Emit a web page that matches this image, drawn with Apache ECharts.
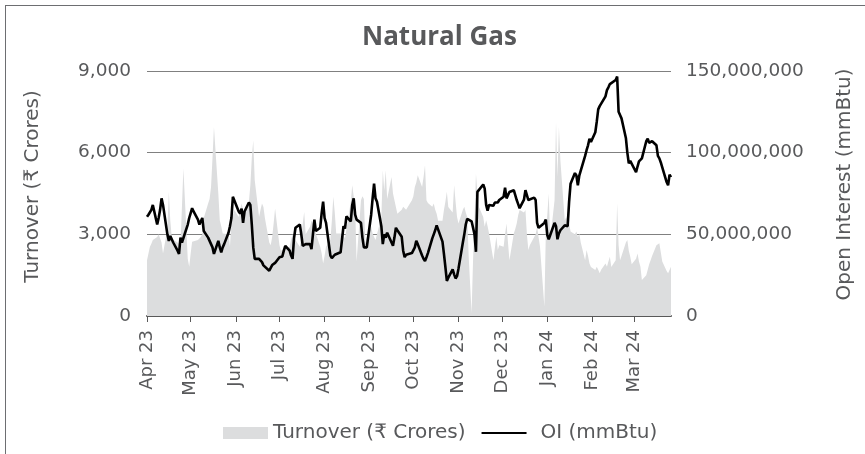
<!DOCTYPE html>
<html>
<head>
<meta charset="utf-8">
<script src="https://cdn.jsdelivr.net/npm/echarts@6/dist/echarts.min.js"></script>
<style>
  html, body { margin: 0; padding: 0; background: #fff; overflow: hidden; }
  #frame { position: absolute; left: 5px; top: 5px; width: 900px; height: 500px; border: 1px solid #6d6e71; }
  #chart { position: absolute; left: 0; top: 0; width: 865px; height: 454px; }
</style>
</head>
<body>
<div id="frame"></div>
<div id="chart"></div>
<script>
// axis runs over every calendar day, data only on trading days
const startDate = '2023-04-03';
const endDate = '2024-03-28';
const specialSessions = ['2023-11-12']; // Diwali muhurat trading (Sunday)

// turnover, ₹ crores, one value per trading day (Apr 23 .. Mar 24)
const turnover = [
  // Apr
  2050, 2300, 2540, 2650, 2790, 2900, 3000, 3030, 2700, 2300, 3200, 4560, 3500, 2910, 2800, 2700, 2730, 2600, 2540, 5420,
  // May
  2100, 1810, 2300, 2730, 2750, 2790, 2850, 2900, 3000, 3600, 4130, 4300, 4740, 5800, 6940, 4500, 3520, 3300, 3030, 3100, 3000, 2540, 3520,
  // Jun
  3700, 3890, 3640, 3900, 4130, 3900, 3760, 4190, 4800, 5800, 6450, 5000, 3640, 3900, 4130, 4000, 3600, 2700, 2600, 2900, 3400, 3950,
  // Jul
  2600, 2400, 2360, 2450, 2500, 2540, 2800, 3000, 2900, 2790, 2540, 2900, 3400, 3820, 3000, 3280, 3500, 3520, 3300, 3030, 2540,
  // Aug
  2300, 1930, 2200, 2540, 2800, 3500, 4380, 3800, 3030, 3030, 3000, 2950, 2850, 2790, 4200, 4800, 4400, 4010, 2000, 4250, 4400, 4300, 2670,
  // Sep
  2900, 3280, 3030, 2900, 2790, 3000, 3640, 5350, 4600, 5350, 4300, 5110, 4500, 4250, 4000, 3760, 3900, 4010, 3950, 3900, 3890,
  // Oct
  4250, 4400, 4740, 4900, 5170, 4740, 5100, 5540, 4250, 4150, 4010, 4130, 3900, 3760, 3500, 3500, 3890, 4200, 4560, 4000, 3800, 4800,
  // Nov
  4200, 3640, 3400, 3900, 4010, 3800, 3640, 2200, 100, 2050, 3500, 5230, 4500, 4010, 3640, 3280, 3520, 3300, 3030, 2050, 2500, 2910, 2420,
  // Dec
  2600, 2540, 3000, 3400, 2700, 2050, 3030, 3200, 3400, 3700, 3890, 3800, 3890, 3000, 2420, 2600, 2900, 3000, 3280, 2900, 2540,
  // Jan
  340, 3030, 3700, 4500, 2790, 4250, 7130, 5110, 6940, 5720, 3520, 3640, 3500, 3400, 3100, 3000, 3100, 2900, 3030, 2700, 2050, 2420, 2200,
  // Feb
  1930, 1800, 1690, 1810, 1700, 1570, 1700, 1930, 1810, 2000, 2180, 1800, 2050, 4130, 2600, 2050, 2200, 2700, 2790, 2400, 2180,
  // Mar
  1900, 2100, 2300, 2000, 1810, 1320, 1500, 1700, 1900, 2050, 2200, 2600, 2650, 2670, 2600, 2000, 1650, 1570, 1600, 1810
];

// open interest, million mmBtu, same trading days
const oiMillions = [
  // Apr
  60.7, 62, 61, 65, 68, 56, 60, 65, 72, 68, 50, 46, 49, 48, 45, 40, 38, 48, 45, 44,
  // May
  56, 60, 63, 66, 64, 59, 56, 58, 60, 52, 48, 46, 44, 42, 38, 46, 42, 39, 42, 44, 51, 55, 60,
  // Jun
  73, 72, 64, 62.7, 65.8, 57, 64, 69.5, 68, 56, 42, 35, 35, 34.5, 33, 31, 30, 27.7, 29.5, 31.2, 31.5, 32.5,
  // Jul
  36, 35, 36.5, 40, 43, 40, 37, 35, 47.5, 54, 56, 50, 43, 43.5, 44, 44, 41, 50, 59, 52, 54,
  // Aug
  63, 70, 60, 57, 37, 35.5, 35, 37.5, 38.5, 39, 47, 55, 53.5, 61, 58, 68, 72, 62, 59, 57, 48, 42, 41.5,
  // Sep
  42, 62, 72, 81, 72, 70, 55, 44, 50, 48, 51, 45, 43, 48, 54, 52.5, 48.5, 40, 36, 37.5, 38.3,
  // Oct
  38.5, 38.7, 42, 46, 44, 37, 35, 33.6, 36, 38.5, 47.5, 50, 52.5, 55.5, 55, 45.5, 38, 30, 21.5, 23.5, 28.5, 25.5,
  // Nov
  23, 24.4, 29, 45, 50, 56, 59.5, 59.5, 58, 57, 50, 39.3, 76, 76, 80.5, 78, 68, 64.5, 68, 67.5, 69.5, 70.5, 69.5,
  // Dec
  71, 73, 78.5, 72, 74, 75.9, 77, 74, 71, 68.5, 66, 71.3, 77, 76, 71, 71.5, 72.5, 71, 57, 54, 53.5,
  // Jan
  57, 59, 49.5, 47, 47.5, 57, 55, 47, 50.5, 52.5, 55.5, 56.4, 55, 70, 81, 87.5, 86, 80, 86, 89, 98, 101.5, 104.5,
  // Feb
  108.5, 106.5, 112.5, 119, 126.5, 128.5, 129.5, 134.5, 138.3, 140, 142, 143, 144.5, 146.6, 125, 124, 121, 109, 100, 93.5, 95,
  // Mar
  94.3, 88, 91.5, 94.7, 95.8, 96.5, 107, 108.5, 106, 106.8, 107, 104.5, 98, 96.5, 94, 91, 82, 80, 86.5, 85
];

const monthNames = ['Jan', 'Feb', 'Mar', 'Apr', 'May', 'Jun', 'Jul', 'Aug', 'Sep', 'Oct', 'Nov', 'Dec'];

const days = [];
const tradingDays = [];
for (let d = new Date(startDate + 'T00:00:00Z'); d <= new Date(endDate + 'T00:00:00Z'); d.setUTCDate(d.getUTCDate() + 1)) {
  const key = d.toISOString().slice(0, 10);
  days.push(key);
  const wd = d.getUTCDay();
  if ((wd !== 0 && wd !== 6) || specialSessions.includes(key)) tradingDays.push(key);
}

const turnoverData = tradingDays.map((day, i) => [day, turnover[i]]);
const oiData = tradingDays.map((day, i) => [day, oiMillions[i] * 1e6]);

// excel style: a tick every month, on the same day as the first date
const isMonthTick = (index, value) => value.slice(8) === '03';

const textColor = '#58595b';
const font = 'DejaVu Sans';

const chart = echarts.init(document.getElementById('chart'));
chart.setOption({
  animation: false,
  title: {
    text: 'Natural Gas',
    left: 357,
    top: 20,
    textStyle: { fontFamily: 'Open Sans', fontSize: 26, fontWeight: 'bold', color: textColor }
  },
  legend: {
    left: 218,
    top: 418,
    itemWidth: 45,
    itemHeight: 12,
    itemGap: 15,
    textStyle: { fontFamily: font, fontSize: 20, color: textColor },
    data: [
      { name: 'Turnover (₹ Crores)', icon: 'rect' },
      { name: 'OI (mmBtu)', itemStyle: { opacity: 0 }, textStyle: { padding: [0, 0, 0, 9] } }
    ]
  },
  grid: { left: 147, right: 194, top: 71, bottom: 138, containLabel: false },
  xAxis: {
    type: 'category',
    data: days,
    boundaryGap: false,
    axisLine: { lineStyle: { color: '#595959', width: 2 } },
    axisTick: { interval: isMonthTick, length: 6, lineStyle: { color: '#595959', width: 1 } },
    axisLabel: {
      interval: isMonthTick,
      rotate: 90,
      margin: 14,
      fontFamily: font,
      fontSize: 18,
      color: textColor,
      formatter: v => monthNames[+v.slice(5, 7) - 1] + ' ' + v.slice(2, 4)
    },
    splitLine: { show: false }
  },
  yAxis: [
    {
      type: 'value',
      min: 0,
      max: 9000,
      interval: 3000,
      name: 'Turnover (₹ Crores)',
      nameLocation: 'middle',
      nameGap: 104,
      nameTextStyle: { fontFamily: font, fontSize: 20, color: textColor, padding: [0, 0, 0, 14] },
      axisLine: { show: false },
      axisTick: { show: false },
      axisLabel: { margin: 16, fontFamily: font, fontSize: 18.5, color: textColor, formatter: v => v.toLocaleString('en-US') },
      splitLine: { lineStyle: { color: '#808080', width: 1 } }
    },
    {
      type: 'value',
      min: 0,
      max: 150000000,
      interval: 50000000,
      name: 'Open Interest (mmBtu)',
      nameLocation: 'middle',
      nameGap: 164,
      nameTextStyle: { fontFamily: font, fontSize: 20, color: textColor, padding: [0, 0, 0, 18] },
      axisLine: { show: false },
      axisTick: { show: false },
      axisLabel: { margin: 15, fontFamily: font, fontSize: 18.5, color: textColor, formatter: v => v.toLocaleString('en-US') },
      splitLine: { show: false }
    }
  ],
  series: [
    {
      name: 'Turnover (₹ Crores)',
      type: 'line',
      yAxisIndex: 0,
      data: turnoverData,
      symbol: 'none',
      lineStyle: { width: 0 },
      itemStyle: { color: '#dcddde' },
      areaStyle: { color: '#dcddde', opacity: 1 },
      z: 1
    },
    {
      name: 'OI (mmBtu)',
      type: 'line',
      yAxisIndex: 1,
      data: oiData,
      symbol: 'none',
      lineStyle: { color: '#000', width: 2.6 },
      itemStyle: { color: '#000' },
      z: 3
    }
  ]
});
</script>
</body>
</html>
